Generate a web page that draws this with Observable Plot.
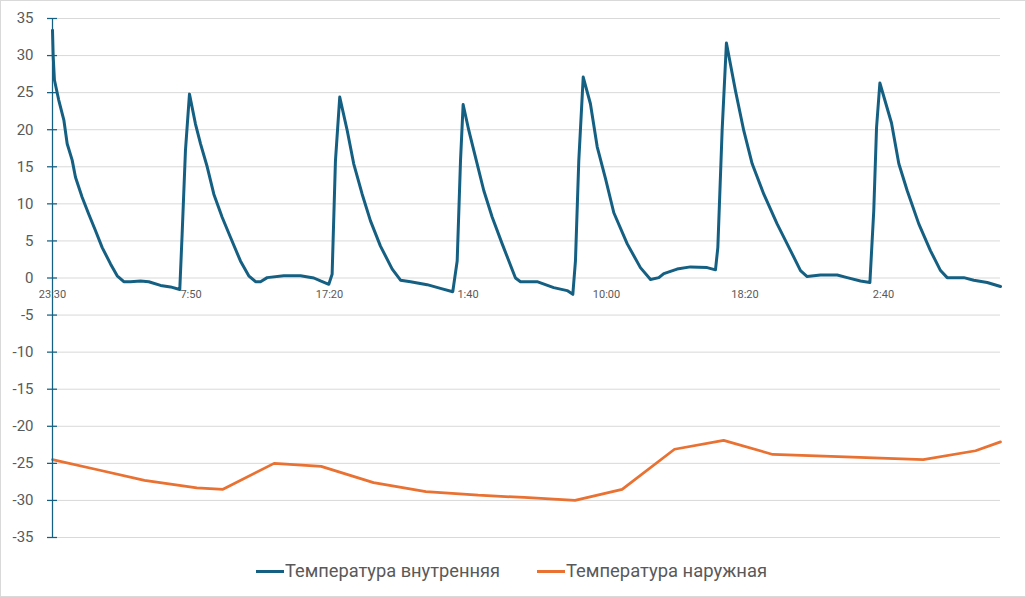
<!DOCTYPE html>
<html>
<head>
<meta charset="utf-8">
<script src="https://cdn.jsdelivr.net/npm/d3@7"></script>
<script src="https://cdn.jsdelivr.net/npm/@observablehq/plot@0.6"></script>
<style>
  html, body { margin: 0; padding: 0; background: #fff; }
  #wrap { position: relative; width: 1026px; height: 597px; overflow: hidden; font-family: Roboto, "Liberation Sans", sans-serif; }
  #frame { position: absolute; left: 0; top: 0; width: 1024px; height: 595px; border: 1px solid #d9d9d9; pointer-events: none; }
  #chart { position: absolute; left: 0; top: 0; }
  .lg-line { position: absolute; height: 3px; width: 28px; }
  .lg-text { position: absolute; top: 560px; line-height: 22px; font-size: 19px; color: #595959; white-space: nowrap; transform-origin: 0 50%; display: inline-block; }
</style>
</head>
<body>
<div id="wrap">
  <div id="chart"></div>
  <div class="lg-line" style="left:256px; top:570px; background:#156082"></div>
  <span class="lg-text" id="lg1" style="left:285px" data-w="215">Температура внутренняя</span>
  <div class="lg-line" style="left:537px; top:570px; background:#E97132"></div>
  <span class="lg-text" id="lg2" style="left:566px" data-w="201">Температура наружная</span>
  <div id="frame"></div>
</div>
<script>
// Category tick positions (index units) and their labels
const xTickPos = [0, 100, 200, 300, 400, 500, 600];
const xTickLabels = ["23:30", "7:50", "17:20", "1:40", "10:00", "18:20", "2:40"];
const yTicks = [-35, -30, -25, -20, -15, -10, -5, 0, 5, 10, 15, 20, 25, 30, 35];

// Температура внутренняя (index position, °C)
const insideX = [0, 0.5, 1.4, 4.5, 8.2, 10.6, 14.2, 16.6, 21.4, 26.2, 31, 35.9, 41.9, 46.7, 51.5, 56.3, 63.5, 69.5, 78, 85.2, 91.9,
  93.6, 96, 98.9, 103.2, 106.9, 111.7, 116.5, 122.5, 128.5, 135.7, 141.7, 146.6, 150.2, 155, 167, 179.1, 188.7, 193.5, 199.5,
  201.9, 204.3, 207.4, 212.8, 217.5, 223.6, 229.6, 236.8, 245.3, 251.3, 258.5, 270.5, 280.1, 289,
  292.2, 294.6, 296.5, 300.6, 305.4, 311.4, 317.5, 324.7, 334.3, 337.9, 349.9, 361.9, 371.6, 375.7,
  377.6, 380, 383.2, 388.4, 393.3, 399.3, 405.3, 415, 424.5, 431.8, 437.8, 441.4, 451, 460.6, 472.7, 478.7,
  480.4, 483.5, 486.6, 493.1, 499.1, 505.2, 513.6, 523.2, 532.9, 540.1, 544.9, 554.5, 566.6, 573.8, 583.4, 590.2,
  593, 595, 597.4, 605.8, 611.1, 617.1, 625.5, 633.9, 641.2, 646, 658, 665.2, 674.9, 684.5];
const insideT = [33.4, 29.9, 26.7, 24.0, 21.3, 18.1, 15.9, 13.6, 10.9, 8.6, 6.4, 4.1, 1.9, 0.3, -0.5, -0.5, -0.4, -0.5, -1.0, -1.2, -1.55,
  5.9, 17.2, 24.8, 20.8, 18.1, 15.0, 11.3, 8.2, 5.5, 2.3, 0.3, -0.5, -0.5, 0.05, 0.3, 0.3, 0, -0.4, -0.85,
  0.5, 15.8, 24.4, 19.9, 15.4, 11.3, 7.7, 4.3, 1.2, -0.3, -0.5, -0.9, -1.4, -1.85,
  2.3, 15.8, 23.4, 19.9, 16.3, 11.8, 8.2, 4.6, 0, -0.5, -0.5, -1.3, -1.7, -2.2,
  2.3, 15.8, 27.1, 23.5, 17.7, 13.4, 8.8, 4.6, 1.4, -0.2, 0.05, 0.6, 1.2, 1.5, 1.4, 1.1,
  4.1, 19.9, 31.7, 25.3, 19.9, 15.4, 11.3, 7.3, 3.7, 1.0, 0.2, 0.4, 0.4, 0.05, -0.4, -0.6,
  9.1, 20.3, 26.3, 20.9, 15.4, 11.8, 7.3, 3.7, 1.0, 0.05, 0.05, -0.3, -0.6, -1.15];

// Температура наружная (index position, °C)
const outsideX = [0, 33.4, 66.4, 104.2, 123.1, 160, 194, 231.8, 269.6, 307.4, 340.5, 377.3, 411.3, 449.1, 484.6, 520.1, 567.3, 628.7, 666.5, 684.5];
const outsideT = [-24.5, -25.9, -27.3, -28.3, -28.5, -25.0, -25.4, -27.6, -28.8, -29.3, -29.6, -30.0, -28.5, -23.1, -21.9, -23.8, -24.1, -24.5, -23.3, -22.1];

const inside = insideX.map((x, i) => ({x, t: insideT[i]}));
const outside = outsideX.map((x, i) => ({x, t: outsideT[i]}));
const xTicks = xTickPos.map((x, i) => ({x, label: xTickLabels[i]}));

const axisColor = "#156082";
const textColor = "#595959";

const plot = Plot.plot({
  width: 1026,
  height: 555,
  marginLeft: 52,
  marginRight: 26,
  marginTop: 18,
  marginBottom: 18,
  style: {fontFamily: "Roboto, 'Liberation Sans', sans-serif", background: "transparent"},
  x: {domain: [0, 684.5], axis: null},
  y: {domain: [-35, 35], axis: null},
  marks: [
    Plot.ruleY(yTicks, {y: d => d, stroke: "#d9d9d9", strokeWidth: 1}),
    Plot.line(outside, {x: "x", y: "t", stroke: "#E97132", strokeWidth: 2.75, strokeLinejoin: "round", strokeLinecap: "round"}),
    Plot.line(inside, {x: "x", y: "t", stroke: "#156082", strokeWidth: 3, strokeLinejoin: "round", strokeLinecap: "round"}),
    Plot.ruleX([0], {x: d => d, y1: -35, y2: 35, stroke: axisColor, strokeWidth: 1.25}),
    Plot.ruleY(yTicks, {y: d => d, x1: 0, x2: 0, insetLeft: -5, insetRight: -5, stroke: axisColor, strokeWidth: 1.25}),
    Plot.text(yTicks, {x: 0, y: d => d, text: d => String(d), dx: -19, textAnchor: "end", fontSize: 15, fill: textColor}),
    Plot.text(xTicks, {x: "x", y: 0, text: "label", dy: 16, fontSize: 11, fill: textColor})
  ]
});
document.getElementById("chart").appendChild(plot);

// fit legend labels to their measured widths
for (const id of ["lg1", "lg2"]) {
  const el = document.getElementById(id);
  const w = el.getBoundingClientRect().width;
  const target = +el.dataset.w;
  if (w > 0) el.style.transform = `scaleX(${target / w})`;
}
</script>
</body>
</html>
